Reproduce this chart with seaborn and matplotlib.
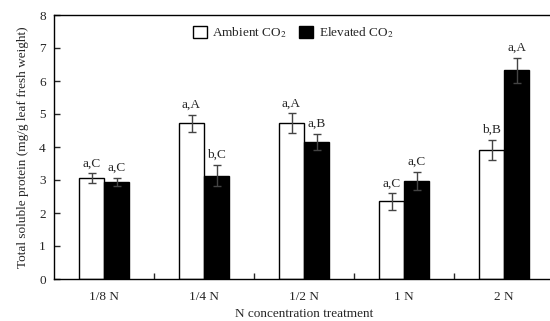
import pandas as pd
import matplotlib
matplotlib.use("Agg")
import matplotlib.pyplot as plt
import seaborn as sns

treatments = ["1/8 N", "1/4 N", "1/2 N", "1 N", "2 N"]
ambient = [3.05, 4.72, 4.72, 2.35, 3.92]
ambient_err = [0.15, 0.26, 0.30, 0.25, 0.30]
ambient_lbl = ["a,C", "a,A", "a,A", "a,C", "b,B"]
elevated = [2.95, 3.13, 4.15, 2.97, 6.32]
elevated_err = [0.12, 0.32, 0.25, 0.28, 0.38]
elevated_lbl = ["a,C", "b,C", "a,B", "a,C", "a,A"]

sns.set_style("white")
plt.rcParams["font.family"] = ["Liberation Serif", "DejaVu Serif"]
plt.rcParams["mathtext.fontset"] = "stix"

df = pd.DataFrame({
    "Treatment": treatments * 2,
    "Value": ambient + elevated,
    "CO2": ["Ambient CO$_2$"] * 5 + ["Elevated CO$_2$"] * 5,
})

fig = plt.figure(figsize=(5.5, 3.21), dpi=100)
ax = fig.add_axes([54 / 550, 1 - 279 / 321, 500 / 550, 264 / 321])

sns.barplot(data=df, x="Treatment", y="Value", hue="CO2", order=treatments,
            palette=["white", "black"], edgecolor="black", linewidth=1,
            width=0.5, ax=ax, errorbar=None)

# error bars and letters, one series per hue
for cont, vals, errs, lbls in zip(ax.containers, [ambient, elevated],
                                   [ambient_err, elevated_err],
                                   [ambient_lbl, elevated_lbl]):
    xs = [p.get_x() + p.get_width() / 2 for p in cont.patches]
    ax.errorbar(xs, vals, yerr=errs, fmt="none", ecolor="#444444",
                elinewidth=1, capsize=3, capthick=1)
    for x, v, e, t in zip(xs, vals, errs, lbls):
        ax.text(x, v + e + 0.12, t, ha="center", va="bottom", fontsize=9.5)

ax.set_ylim(0, 8)
ax.set_xlim(-0.5, 4.5)
ax.set_yticks(range(0, 9))
ax.set_xticks([i + 0.5 for i in range(4)], minor=True)
ax.tick_params(axis="x", which="major", length=0, labelsize=9.5, pad=9)
ax.tick_params(axis="x", which="minor", direction="in", length=4, width=1, bottom=True)
ax.tick_params(axis="y", direction="in", length=4, width=1, left=True, labelsize=9.5, pad=6)
ax.set_xlabel("N concentration treatment", fontsize=9.5, labelpad=3)
ax.set_ylabel("Total soluble protein (mg/g leaf fresh weight)", fontsize=9.5, labelpad=7)

for s in ["left", "bottom", "top"]:
    ax.spines[s].set_color("black")
    ax.spines[s].set_linewidth(1)
ax.spines["right"].set_visible(False)

ax.legend(loc="center", bbox_to_anchor=(0.478, 0.932), ncol=2, frameon=False,
          fontsize=9.5, handlelength=1.1, handleheight=1.1, columnspacing=0.9,
          handletextpad=0.4, title=None)

fig.savefig("out.png", dpi=100)
